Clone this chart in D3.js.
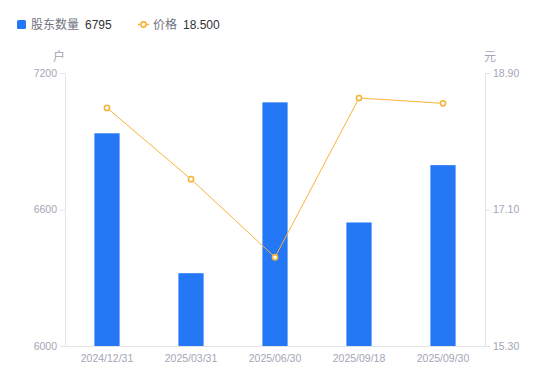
<!DOCTYPE html>
<html>
<head>
<meta charset="utf-8">
<script src="https://cdn.jsdelivr.net/npm/d3@7"></script>
<style>
  body { margin: 0; background: #fff; }
  svg text { font-family: "Noto Sans CJK SC", "Noto Sans", sans-serif; }
</style>
</head>
<body>
<div id="chart"></div>
<script>
// 数据
const dates = ["2024/12/31", "2025/03/31", "2025/06/30", "2025/09/18", "2025/09/30"];
const holders = [6935, 6320, 7071, 6543, 6795];
const prices = [18.44, 17.50, 16.47, 18.57, 18.50];
const leftTicks = [6000, 6600, 7200];
const rightTicks = [15.30, 17.10, 18.90];

const width = 550, height = 381;
const margin = { top: 73, right: 65, bottom: 35, left: 65 };

const svg = d3.select("#chart").append("svg")
    .attr("width", width)
    .attr("height", height);

const x = d3.scaleBand()
    .domain(dates)
    .range([margin.left, width - margin.right])
    .paddingInner(0.7)
    .paddingOuter(0.35);

const yL = d3.scaleLinear().domain([6000, 7200]).range([height - margin.bottom, margin.top]);
const yR = d3.scaleLinear().domain([15.30, 18.90]).range([height - margin.bottom, margin.top]);

const axisColor = "#e3e4e8";
const labelColor = "#a3a6b4";

// 左轴
const gl = svg.append("g")
    .attr("transform", `translate(${margin.left},0)`)
    .call(d3.axisLeft(yL).tickValues(leftTicks).tickSize(5).tickPadding(3).tickFormat(d3.format("d")));
// 右轴
const gr = svg.append("g")
    .attr("transform", `translate(${width - margin.right},0)`)
    .call(d3.axisRight(yR).tickValues(rightTicks).tickSize(5).tickPadding(3).tickFormat(d3.format(".2f")));
// 底轴
const gb = svg.append("g")
    .attr("transform", `translate(0,${height - margin.bottom})`)
    .call(d3.axisBottom(x).tickSize(0).tickPadding(9));

[gl, gr, gb].forEach(g => {
    g.select(".domain").attr("stroke", axisColor);
    g.selectAll(".tick line").attr("stroke", axisColor);
    g.selectAll(".tick text").attr("fill", labelColor).style("font-size", "10.5px")
        .style("font-family", "'Liberation Sans', Arial, sans-serif");
});

// 单位
svg.append("text").attr("x", 59).attr("y", 61).attr("text-anchor", "middle")
    .attr("fill", labelColor).style("font-size", "12px").text("户");
svg.append("text").attr("x", 490).attr("y", 61).attr("text-anchor", "middle")
    .attr("fill", labelColor).style("font-size", "12px").text("元");

// 柱子
svg.selectAll(".bar")
    .data(holders)
    .enter().append("rect")
    .attr("class", "bar")
    .attr("x", (d, i) => x(dates[i]))
    .attr("width", x.bandwidth())
    .attr("y", d => yL(d))
    .attr("height", d => yL(6000) - yL(d))
    .attr("fill", "#2477f5");

// 折线
const line = d3.line()
    .x((d, i) => x(dates[i]) + x.bandwidth() / 2)
    .y(d => yR(d));

svg.append("path")
    .datum(prices)
    .attr("d", line)
    .attr("fill", "none")
    .attr("stroke", "#f8b33a")
    .attr("stroke-width", 1);

svg.selectAll(".pt")
    .data(prices)
    .enter().append("circle")
    .attr("class", "pt")
    .attr("cx", (d, i) => x(dates[i]) + x.bandwidth() / 2)
    .attr("cy", d => yR(d))
    .attr("r", 2.6)
    .attr("fill", "#fff")
    .attr("stroke", "#f8b33a")
    .attr("stroke-width", 1.6);

// 图例
const legend = svg.append("g");
legend.append("rect").attr("x", 17).attr("y", 20).attr("width", 9).attr("height", 9)
    .attr("rx", 1.5).attr("fill", "#2477f5");
legend.append("text").attr("x", 31).attr("y", 29).attr("fill", "#70737e")
    .style("font-size", "12px").text("股东数量");
legend.append("text").attr("x", 85).attr("y", 29).attr("fill", "#333")
    .style("font-size", "12px").style("font-family", "'Liberation Sans', Arial, sans-serif")
    .text(d3.format("d")(holders[holders.length - 1]));

legend.append("line").attr("x1", 138).attr("x2", 149).attr("y1", 24.5).attr("y2", 24.5)
    .attr("stroke", "#f8b33a").attr("stroke-width", 1.5);
legend.append("circle").attr("cx", 143.5).attr("cy", 24.5).attr("r", 2.6)
    .attr("fill", "#fff").attr("stroke", "#f8b33a").attr("stroke-width", 1.6);
legend.append("text").attr("x", 153).attr("y", 29).attr("fill", "#70737e")
    .style("font-size", "12px").text("价格");
legend.append("text").attr("x", 183).attr("y", 29).attr("fill", "#333")
    .style("font-size", "12px").style("font-family", "'Liberation Sans', Arial, sans-serif")
    .text(d3.format(".3f")(prices[prices.length - 1]));
</script>
</body>
</html>
